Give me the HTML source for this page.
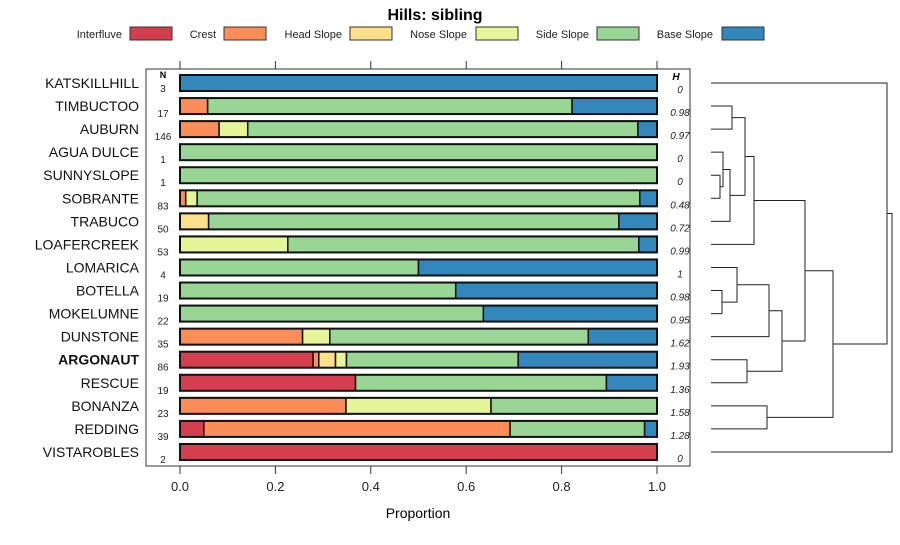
<!DOCTYPE html>
<html><head><meta charset="utf-8"><style>
body{margin:0;background:#fff;}
svg text{font-family:"Liberation Sans",sans-serif;}
</style></head><body>
<svg id="chart" width="900" height="540" xmlns="http://www.w3.org/2000/svg">
<text x="435" y="20" font-size="16" font-weight="bold" text-anchor="middle">Hills: sibling</text>
<g id="legend"></g>
<rect x="146" y="69" width="544" height="397" fill="none" stroke="#333" stroke-width="1"/>
<g id="axis"></g>
<g id="bars"></g>
<g id="dendro"></g>
<text x="418" y="518" font-size="14" text-anchor="middle">Proportion</text>
</svg>
<script>
const classes = ["Interfluve","Crest","Head Slope","Nose Slope","Side Slope","Base Slope"];
const colors = ["#D53E4F","#FC8D59","#FEE08B","#E6F598","#99D594","#3288BD"];
const names = ["KATSKILLHILL","TIMBUCTOO","AUBURN","AGUA DULCE","SUNNYSLOPE","SOBRANTE","TRABUCO","LOAFERCREEK","LOMARICA","BOTELLA","MOKELUMNE","DUNSTONE","ARGONAUT","RESCUE","BONANZA","REDDING","VISTAROBLES"];
const counts = [3,17,146,1,1,83,50,53,4,19,22,35,86,19,23,39,2];
const entropy = ["0","0.98","0.97","0","0","0.48","0.72","0.99","1","0.98","0.95","1.62","1.93","1.36","1.58","1.28","0"];
const props = [
 [0,0,0,0,0,1],
 [0,0.058,0,0,0.764,0.178],
 [0,0.082,0,0.06,0.818,0.04],
 [0,0,0,0,1,0],
 [0,0,0,0,1,0],
 [0,0.012,0,0.024,0.928,0.036],
 [0,0,0.06,0,0.86,0.08],
 [0,0,0,0.226,0.736,0.038],
 [0,0,0,0,0.5,0.5],
 [0,0,0,0,0.578,0.422],
 [0,0,0,0,0.636,0.364],
 [0,0.257,0,0.057,0.542,0.144],
 [0.279,0.012,0.035,0.023,0.36,0.291],
 [0.368,0,0,0,0.526,0.106],
 [0,0.348,0,0.304,0.348,0],
 [0.05,0.642,0,0,0.282,0.026],
 [1,0,0,0,0,0]
];
const ticks = [0,0.2,0.4,0.6,0.8,1.0];
const tickLabels = ["0.0","0.2","0.4","0.6","0.8","1.0"];
// dendrogram merges: [childA, childB, height(x px)] ; leaves are row indices, clusters "c#"
const merges = [
 [1,2,732],[4,5,720],[3,"c1",723],["c2",6,730],["c0","c3",745],["c4",7,754],
 [9,10,722],[8,"c6",737],["c7",11,769],[12,13,747],["c8","c9",782],["c5","c10",805],
 [14,15,767],["c11","c12",833],[0,"c13",887],["c14",16,892]
];

const NS="http://www.w3.org/2000/svg";
function mk(tag,attrs,parent){const e=document.createElementNS(NS,tag);for(const k in attrs)e.setAttribute(k,attrs[k]);parent.appendChild(e);return e;}
const X0=180,X1=657;
const xs=v=>X0+(X1-X0)*v;
const y0=83,dy=23.06;
const ys=i=>y0+dy*i;

// legend
const lg=document.getElementById('legend');
const lx=[[122,130],[216,224],[342,350],[467,476],[589,597],[713,722]];
classes.forEach((c,i)=>{
 const t=mk('text',{x:lx[i][0],y:38,'font-size':11,'text-anchor':'end',fill:'#222'},lg);
 t.textContent=c;
 
 
 const r=mk('rect',{x:lx[i][1],y:27,width:42,height:13,fill:colors[i],stroke:'#333','stroke-width':1},lg);
 
 
});

// axis
const ax=document.getElementById('axis');
ticks.forEach((t,i)=>{
 const x=xs(t);
 mk('line',{x1:x,x2:x,y1:61,y2:69,stroke:'#333'},ax);
 mk('line',{x1:x,x2:x,y1:466,y2:474,stroke:'#333'},ax);
 const tx=mk('text',{x:x,y:491,'font-size':13,'text-anchor':'middle',fill:'#222'},ax);
 tx.textContent=tickLabels[i];
 
 
});

// bars
const bg=document.getElementById('bars');
const hN=mk('text',{x:163,y:78,'font-size':9,'font-weight':'bold','text-anchor':'middle'},bg);hN.textContent='N';
const hH=mk('text',{x:676,y:80,'font-size':10,'font-weight':'bold','font-style':'italic','text-anchor':'middle'},bg);hH.textContent='H';
names.forEach((n,i)=>{
 const y=ys(i);
 const lab=mk('text',{x:139,y:y+5,'font-size':14,'text-anchor':'end',fill:'#111'},bg);
 lab.textContent=n;
 if(n==='ARGONAUT')lab.setAttribute('font-weight','bold');
 
 
 const nt=mk('text',{x:163,y:y+(i===0?9:11),'font-size':10,'text-anchor':'middle',fill:'#222'},bg);
 nt.textContent=counts[i];
 
 
 const ht=mk('text',{x:680,y:y+10,'font-size':10,'font-style':'italic','text-anchor':'middle',fill:'#222'},bg);
 ht.textContent=entropy[i];
 
 
 let c=0;
 props[i].forEach((p,k)=>{
  if(p<=0)return;
  const r=mk('rect',{x:xs(c),y:y-8,width:xs(c+p)-xs(c),height:16,fill:colors[k],stroke:'#111','stroke-width':1.5},bg);
  
  
  c+=p;
 });
 const o=mk('rect',{x:X0,y:y-8,width:X1-X0,height:16,fill:'none',stroke:'#111','stroke-width':2},bg);
 
 
});

// dendrogram
const dg=document.getElementById('dendro');
const leafX=711;
const info=[];
function node(id){if(typeof id==='number')return {x:leafX,y:ys(id)};return info[+id.slice(1)];}
merges.forEach(m=>{
 const a=node(m[0]),b=node(m[1]),h=m[2];
 const p=mk('path',{d:`M${a.x},${a.y}H${h}V${b.y}H${b.x}`,fill:'none',stroke:'#222','stroke-width':1},dg);
 
 
 info.push({x:h,y:(a.y+b.y)/2});
});
</script>
</body></html>
